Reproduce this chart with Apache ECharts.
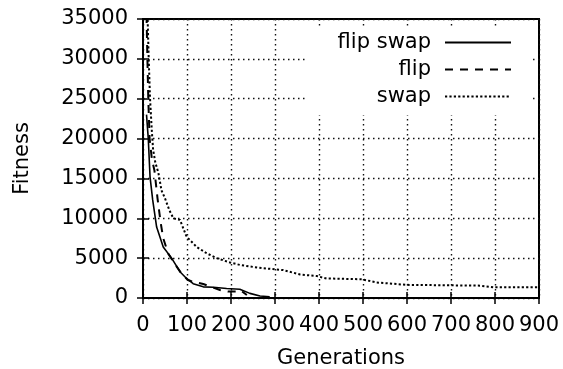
<!DOCTYPE html>
<html>
<head>
    <meta charset="utf-8">
    <title>Fitness vs Generations</title>
    <script src="https://cdn.jsdelivr.net/npm/echarts@6/dist/echarts.min.js"></script>
    <style>
        html, body { margin: 0; padding: 0; background: #fff; }
        #chart { width: 563px; height: 369px; }
    </style>
</head>
<body>
<div id="chart"></div>
<script type="text/javascript">
    // axis ticks
    var xTicks = [0, 100, 200, 300, 400, 500, 600, 700, 800, 900];
    var yTicks = [0, 5000, 10000, 15000, 20000, 25000, 30000, 35000];

    // flip swap (solid)
    var flipSwapGen = [8, 12, 16, 22, 31, 46, 65, 84, 99, 114, 137, 160, 190, 220, 243, 266, 288];
    var flipSwapFit = [23000, 20000, 15200, 12300, 8900, 6400, 5000, 3300, 2450, 1800, 1400, 1350, 1200, 1100, 580, 250, 150];

    // flip (dashed)
    var flipGen = [8, 10, 12, 15, 20, 26, 33, 40, 46, 57, 72, 87, 102, 110, 137, 175, 193, 213, 222, 236];
    var flipFit = [35500, 30000, 25000, 20000, 17500, 16000, 12500, 9500, 7500, 5600, 4300, 3100, 2250, 2100, 1750, 1000, 800, 800, 950, 380];

    // swap (dotted)
    var swapGen = [10, 13, 16, 20, 23, 28, 35, 42, 50, 60, 69, 84, 99, 122, 145, 167, 198, 220, 250, 281, 319, 357, 395, 417, 497, 531, 599, 766, 796, 900];
    var swapFit = [36000, 30000, 25000, 21000, 18600, 17000, 15700, 13500, 12500, 11000, 10000, 9800, 7700, 6400, 5600, 5000, 4450, 4150, 3900, 3700, 3500, 2950, 2750, 2450, 2350, 1950, 1650, 1550, 1350, 1350];

    function pairs(xs, ys) {
        var out = [];
        for (var i = 0; i < xs.length; i++) {
            out.push([xs[i], ys[i]]);
        }
        return out;
    }

    var font = 'DejaVu Sans';
    var black = '#000';
    var fs = 21;

    var myChart = echarts.init(document.getElementById('chart'));

    // gnuplot style: ticks inside, mirrored on top and right
    var tick = { show: true, inside: true, length: 6, lineStyle: { color: black, width: 1.5 } };
    var border = { show: true, lineStyle: { color: black, width: 2 } };
    var dotted = { show: true, lineStyle: { color: '#111', width: 1.4, type: [1.5, 3.5] } };
    var plain = function (v) { return String(v); };

    var option = {
        animation: false,
        textStyle: { fontFamily: font, color: black },
        grid: {
            left: 143, right: 24, top: 19, bottom: 71,
            show: true, borderColor: black, borderWidth: 2,
            containLabel: false,
            outerBoundsMode: 'none'
        },
        legend: {
            orient: 'vertical',
            align: 'right',
            right: 33,
            top: 26,
            padding: [6, 18, 8, 31],
            backgroundColor: '#fff',
            itemGap: 6,
            itemWidth: 66,
            itemHeight: 14,
            itemStyle: { opacity: 0 },
            textStyle: { fontFamily: font, fontSize: fs, color: black, padding: [0, 9, 0, 0] },
            data: ['flip swap', 'flip', 'swap']
        },
        xAxis: [
            {
                type: 'value',
                min: xTicks[0], max: xTicks[xTicks.length - 1], interval: 100,
                name: 'Generations',
                nameLocation: 'middle',
                nameGap: 50,
                nameTextStyle: { fontFamily: font, fontSize: fs, color: black },
                axisLine: border,
                axisTick: tick,
                axisLabel: { fontFamily: font, fontSize: fs, color: black, margin: 17, formatter: plain },
                splitLine: dotted
            },
            {
                type: 'value', position: 'top',
                min: xTicks[0], max: xTicks[xTicks.length - 1], interval: 100,
                axisLine: border,
                axisTick: tick,
                axisLabel: { show: false },
                splitLine: { show: false }
            }
        ],
        yAxis: [
            {
                type: 'value',
                min: yTicks[0], max: yTicks[yTicks.length - 1], interval: 5000,
                name: 'Fitness',
                nameLocation: 'middle',
                nameGap: 110,
                nameTextStyle: { fontFamily: font, fontSize: fs, color: black },
                axisLine: border,
                axisTick: tick,
                axisLabel: { fontFamily: font, fontSize: fs, color: black, margin: 15, formatter: plain },
                splitLine: dotted
            },
            {
                type: 'value', position: 'right',
                min: yTicks[0], max: yTicks[yTicks.length - 1], interval: 5000,
                axisLine: border,
                axisTick: tick,
                axisLabel: { show: false },
                splitLine: { show: false }
            }
        ],
        series: [
            {
                name: 'flip swap',
                type: 'line',
                symbol: 'none',
                color: black,
                lineStyle: { color: black, width: 1.6, type: 'solid' },
                data: pairs(flipSwapGen, flipSwapFit)
            },
            {
                name: 'flip',
                type: 'line',
                symbol: 'none',
                color: black,
                lineStyle: { color: black, width: 2, type: [8, 7] },
                data: pairs(flipGen, flipFit)
            },
            {
                name: 'swap',
                type: 'line',
                symbol: 'none',
                color: black,
                lineStyle: { color: black, width: 2, type: [2.2, 2.2] },
                data: pairs(swapGen, swapFit)
            }
        ]
    };

    myChart.setOption(option);
</script>
</body>
</html>
